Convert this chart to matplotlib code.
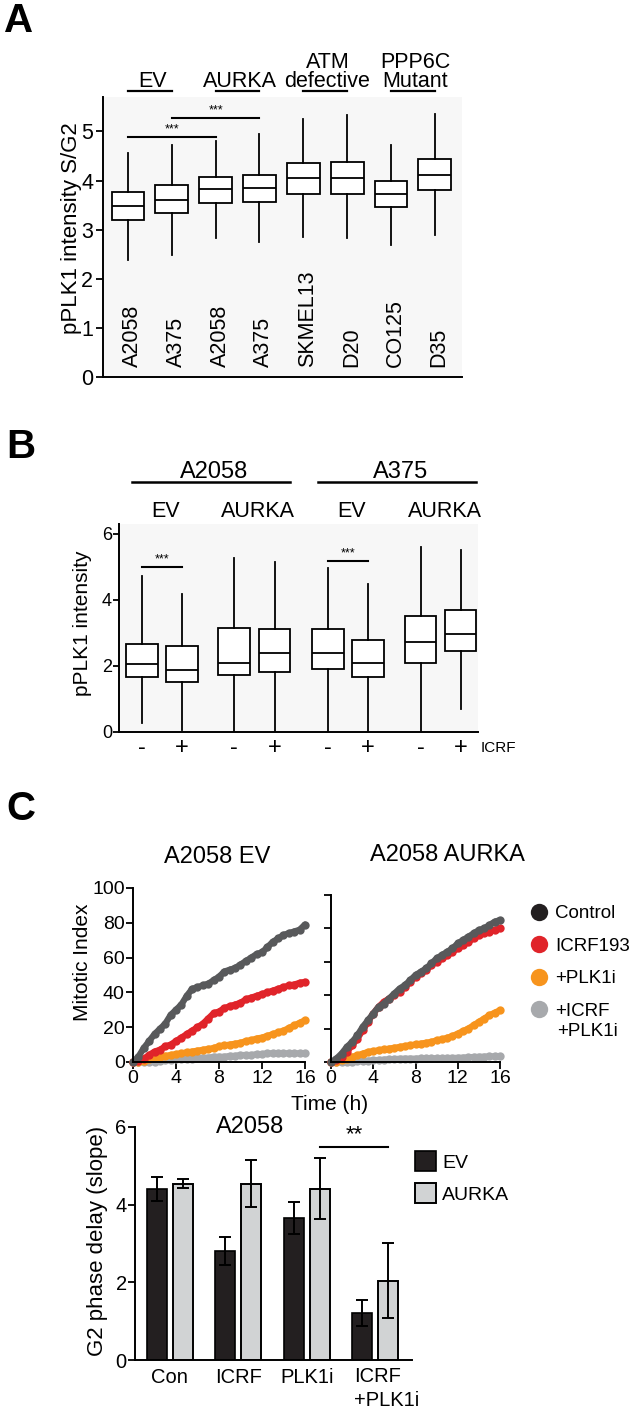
import numpy as np
import matplotlib
matplotlib.use("Agg")
import matplotlib.pyplot as plt
from matplotlib.lines import Line2D

plt.rcParams['font.family'] = ['Liberation Sans', 'DejaVu Sans']

# ---------------- data ----------------
# Panel A
a_cells = ["A2058", "A375", "A2058", "A375", "SKMEL13", "D20", "CO125", "D35"]
a_whislo = [2.38, 2.49, 2.82, 2.75, 2.84, 2.82, 2.69, 2.90]
a_q1 = [3.20, 3.33, 3.55, 3.57, 3.73, 3.73, 3.47, 3.80]
a_med = [3.49, 3.61, 3.83, 3.85, 4.05, 4.06, 3.73, 4.12]
a_q3 = [3.76, 3.90, 4.07, 4.12, 4.35, 4.37, 3.98, 4.43]
a_whishi = [4.55, 4.73, 4.80, 4.94, 5.26, 5.33, 4.73, 5.35]
a_groups = [["EV"], ["AURKA"], ["ATM", "defective"], ["PPP6C", "Mutant"]]

# Panel B
b_whislo = [0.27, 0.06, 0.0, 0.0, 0.0, 0.0, 0.0, 0.70]
b_q1 = [1.68, 1.50, 1.72, 1.82, 1.90, 1.67, 2.10, 2.45]
b_med = [2.06, 1.88, 2.10, 2.40, 2.40, 2.10, 2.73, 2.97]
b_q3 = [2.67, 2.60, 3.15, 3.12, 3.12, 2.80, 3.50, 3.70]
b_whishi = [4.73, 4.18, 5.27, 5.15, 4.97, 4.48, 5.60, 5.50]
b_lines = ["A2058", "A375"]
b_constructs = ["EV", "AURKA", "EV", "AURKA"]
b_icrf = ["-", "+", "-", "+", "-", "+", "-", "+"]

# Panel C - time courses
time_h = [0, 0.5, 1, 1.5, 2, 2.5, 3, 3.5, 4, 4.5, 5, 5.5, 6, 6.5, 7, 7.5, 8,
          8.5, 9, 9.5, 10, 10.5, 11, 11.5, 12, 12.5, 13, 13.5, 14, 14.5, 15, 15.5, 16]
ev_control = [0, 3, 8, 12, 16, 19, 22, 27, 30, 33, 38, 42, 43, 44, 45, 47, 49,
              52, 53, 54, 56, 58, 60, 62, 63, 66, 69, 71, 73, 74, 75, 76, 79]
ev_icrf = [0, 0.5, 2, 4, 6, 7, 9, 10, 12, 14, 16, 18, 20, 22, 25, 28, 29,
           31, 32, 33, 34, 36, 37, 38, 39, 40, 41, 42, 43, 44, 44.5, 45.5, 46]
ev_plk1i = [0, 0, 0.5, 1.5, 2.5, 3, 3.5, 4, 4.5, 5, 5.5, 6, 6.5, 7, 7.5, 8, 9,
            9.5, 10, 10.5, 11, 12, 12.5, 13.5, 14, 15, 16, 17, 18, 19.5, 21, 22.5, 24]
ev_combo = [0, 0, 0, 0, 0, 0.5, 1, 1, 1.5, 1.5, 2, 2, 2.5, 2.5, 2.5, 3, 3,
            3, 3.5, 3.5, 4, 4, 4, 4.5, 4.5, 5, 5, 5, 5, 5, 5, 5, 5]
au_control = [0, 2, 5, 9, 12, 16, 21, 25, 29, 33, 35, 38, 41, 44, 46, 49, 52,
              54, 56, 59, 62, 64, 66, 68, 71, 73, 75, 77, 79, 80, 82, 84, 85]
au_icrf = [0, 1, 3, 6, 10, 14, 19, 24, 29, 33, 36, 38, 40, 42, 45, 48, 51,
           53, 55, 58, 60, 62, 64, 66, 68, 70, 72, 74, 76, 77, 78, 79, 80]
au_plk1i = [0, 0, 1, 2, 3, 4, 5, 6, 6.5, 7, 7.5, 8, 8.5, 9, 9.5, 10, 10.5,
            11, 11.5, 12, 13, 13.5, 14.5, 15.5, 17, 18.5, 20, 22, 24, 26, 28, 29.5, 31]
au_combo = [0, 0, 0, 0, 0, 0.3, 0.6, 0.8, 1, 1.2, 1.4, 1.6, 1.8, 1.9, 2, 2, 2,
            2.1, 2.2, 2.2, 2.3, 2.3, 2.4, 2.4, 2.5, 2.6, 2.8, 3, 3.1, 3.2, 3.3, 3.4, 3.5]
series_names = ["Control", "ICRF193", "+PLK1i", "+ICRF"]

# Panel C - bars
bar_groups = ["Con", "ICRF", "PLK1i", "ICRF\n+PLK1i"]
ev_mean = [4.41, 2.81, 3.66, 1.21]
ev_err = [0.31, 0.36, 0.41, 0.34]
aurka_mean = [4.54, 4.54, 4.41, 2.04]
aurka_err = [0.12, 0.60, 0.78, 0.97]

# ---------------- layout helpers ----------------
W, H = 630, 1409
fig = plt.figure(figsize=(W / 100, H / 100), dpi=100)


def rect(l, t, r, b):
    return [l / W, 1 - b / H, (r - l) / W, (b - t) / H]


def fx(x):
    return x / W


def fy(y):
    return 1 - y / H


BG = '#f7f7f7'
LW = 1.3

# ---------------- Panel A ----------------
axA = fig.add_axes(rect(103, 97, 462, 377))
axA.set_facecolor(BG)
posA = list(range(1, 9))
statsA = [dict(med=m, q1=a, q3=b, whislo=lo, whishi=hi, label=c)
          for m, a, b, lo, hi, c in zip(a_med, a_q1, a_q3, a_whislo, a_whishi, a_cells)]
axA.bxp(statsA, positions=posA, widths=0.75, showfliers=False, showcaps=False,
        patch_artist=True,
        boxprops=dict(facecolor='white', edgecolor='black', linewidth=LW),
        medianprops=dict(color='black', linewidth=LW),
        whiskerprops=dict(color='black', linewidth=LW))
axA.set_xlim(0.43, 8.62)
axA.set_ylim(0, 5.7)
axA.set_yticks([0, 1, 2, 3, 4, 5])
axA.set_xticks([])
for s in ['top', 'right']:
    axA.spines[s].set_visible(False)
for s in ['left', 'bottom']:
    axA.spines[s].set_linewidth(1.4)
axA.tick_params(axis='y', direction='out', length=5, width=1.3, labelsize=15.5, pad=2)
for p, c in zip(posA, a_cells):
    axA.text(p + 0.1, 0.2, c, rotation=90, ha='center', va='bottom', fontsize=15.5)
trA = axA.get_xaxis_transform()
for gi, g in enumerate(a_groups):
    x0, x1 = posA[2 * gi], posA[2 * gi + 1]
    xc = (x0 + x1) / 2 + 0.05
    axA.plot([x0, x1], [1.021, 1.021], color='black', lw=1.6, transform=trA, clip_on=False)
    axA.text(xc, 1.034, g[-1], ha='center', va='baseline', fontsize=15.5, transform=trA)
    if len(g) > 1:
        axA.text(xc, 1.104, g[0], ha='center', va='baseline', fontsize=15.5, transform=trA)
for (i, j, yv) in [(0, 2, 4.88), (1, 3, 5.27)]:
    axA.plot([posA[i], posA[j]], [yv, yv], color='black', lw=1.5)
    axA.text((posA[i] + posA[j]) / 2, yv + 0.03, "***", ha='center', va='bottom', fontsize=9)
fig.text(fx(71), fy(228), "pPLK1 intensity S/G2", rotation=90, ha='center', va='center', fontsize=16)
fig.text(fx(4), fy(32), "A", fontsize=29, fontweight='bold', va='baseline', ha='left')

# ---------------- Panel B ----------------
axB = fig.add_axes(rect(119, 524, 478, 732))
axB.set_facecolor(BG)
posB = [1, 2, 3.3, 4.32, 5.65, 6.65, 7.97, 8.97]
statsB = [dict(med=m, q1=a, q3=b, whislo=lo, whishi=hi)
          for m, a, b, lo, hi in zip(b_med, b_q1, b_q3, b_whislo, b_whishi)]
axB.bxp(statsB, positions=posB, widths=0.78, showfliers=False, showcaps=False,
        patch_artist=True,
        boxprops=dict(facecolor='white', edgecolor='black', linewidth=LW),
        medianprops=dict(color='black', linewidth=LW),
        whiskerprops=dict(color='black', linewidth=LW))
axB.set_xlim(0.425, 9.4)
axB.set_ylim(0, 6.3)
axB.set_yticks([0, 2, 4, 6])
axB.set_xticks([])
for s in ['top', 'right']:
    axB.spines[s].set_visible(False)
for s in ['left', 'bottom']:
    axB.spines[s].set_linewidth(1.4)
axB.tick_params(axis='y', direction='out', length=4, width=1.3, labelsize=13, pad=1)
trB = axB.get_xaxis_transform()
for k, name in enumerate(b_lines):
    gc = (posB[4 * k] + posB[4 * k + 3]) / 2
    axB.plot([gc - 1.9, gc + 2.05], [1.202, 1.202], color='black', lw=1.8, transform=trB, clip_on=False)
    axB.text(gc + 0.15, 1.221, name, ha='center', va='baseline', fontsize=17, transform=trB)
for k, name in enumerate(b_constructs):
    pc = (posB[2 * k] + posB[2 * k + 1]) / 2
    axB.text(pc + 0.1, 1.034, name, ha='center', va='baseline', fontsize=15.5, transform=trB)
for p, s in zip(posB, b_icrf):
    axB.text(p, -0.077, s, ha='center', va='center', fontsize=17, transform=trB)
axB.text(9.47, -0.077, "ICRF", ha='left', va='center', fontsize=11, transform=trB)
for (i, j, yv) in [(0, 1, 5.0), (4, 5, 5.18)]:
    axB.plot([posB[i], posB[j]], [yv, yv], color='black', lw=1.5)
    axB.text((posB[i] + posB[j]) / 2, yv + 0.05, "***", ha='center', va='bottom', fontsize=9)
fig.text(fx(82), fy(623), "pPLK1 intensity", rotation=90, ha='center', va='center', fontsize=15)
fig.text(fx(6), fy(458), "B", fontsize=29, fontweight='bold', va='baseline', ha='left')

# ---------------- Panel C : time courses ----------------
colors = ['#58595b', '#e0242a', '#f7941d', '#a7a9ac']
legend_colors = ['#231f20', '#e0242a', '#f7941d', '#a7a9ac']
axL = fig.add_axes(rect(133, 888, 305, 1062))
axR = fig.add_axes(rect(331, 895, 500, 1062))
ev_series = [ev_control, ev_icrf, ev_plk1i, ev_combo]
au_series = [au_control, au_icrf, au_plk1i, au_combo]
draw_order = [3, 2, 1, 0]
for ax, series in [(axL, ev_series), (axR, au_series)]:
    for i in draw_order:
        ax.plot(time_h, series[i], color=colors[i], lw=4.5, marker='o', ms=6,
                markeredgewidth=0, solid_capstyle='round', clip_on=False)
    ax.set_xlim(0, 16)
    ax.set_ylim(0, 100)
    ax.set_xticks([0, 4, 8, 12, 16])
    ax.set_yticks([0, 20, 40, 60, 80, 100])
    for s in ['top', 'right']:
        ax.spines[s].set_visible(False)
    for s in ['left', 'bottom']:
        ax.spines[s].set_linewidth(1.4)
    ax.tick_params(direction='out', length=5, width=1.3, labelsize=14, pad=1)
axR.tick_params(axis='y', labelleft=False)
fig.text(fx(217), fy(857), "A2058 EV", ha='center', va='center', fontsize=17)
fig.text(fx(447), fy(855), "A2058 AURKA", ha='center', va='center', fontsize=17)
fig.text(fx(330), fy(1104), "Time (h)", ha='center', va='center', fontsize=15)
fig.text(fx(83), fy(962), "Mitotic Index", rotation=90, ha='center', va='center', fontsize=15)
handles = [Line2D([], [], ls='none', marker='o', ms=12.5, color=c, markeredgewidth=0)
           for c in legend_colors]
fig.legend(handles, series_names, loc='upper left', bbox_to_anchor=(fx(530), fy(905)),
           frameon=False, fontsize=13.5, handlelength=1.0, handletextpad=0.35,
           labelspacing=0.82, borderpad=0, borderaxespad=0)
fig.text(fx(557), fy(1032), "+PLK1i", ha='left', va='center', fontsize=13.5)
fig.text(fx(6), fy(820), "C", fontsize=29, fontweight='bold', va='baseline', ha='left')

# ---------------- Panel C : bars ----------------
axC = fig.add_axes(rect(135, 1127, 412, 1360))
xg = np.arange(len(bar_groups))
off, bw = 0.19, 0.29
ekw = dict(ecolor='black', elinewidth=1.4, capsize=4.5, capthick=1.4)
axC.bar(xg - off, ev_mean, bw, yerr=ev_err, color='#231f20', edgecolor='black',
        linewidth=1.2, error_kw=ekw, label='EV')
axC.bar(xg + off, aurka_mean, bw, yerr=aurka_err, color='#d1d3d4', edgecolor='black',
        linewidth=1.4, error_kw=ekw, label='AURKA')
axC.set_xlim(-0.51, 3.54)
axC.set_ylim(0, 6)
axC.set_yticks([0, 2, 4, 6])
axC.set_xticks(xg)
axC.set_xticklabels(bar_groups[:-1] + [""])
trC = axC.get_xaxis_transform()
axC.text(xg[-1] - 0.31, -0.03, bar_groups[-1], ha='left', va='top', fontsize=14.5,
         linespacing=1.35, multialignment='left', transform=trC)
for s in ['top', 'right']:
    axC.spines[s].set_visible(False)
for s in ['left', 'bottom']:
    axC.spines[s].set_linewidth(1.4)
axC.tick_params(axis='y', direction='out', length=5, width=1.3, labelsize=14.5, pad=1)
axC.tick_params(axis='x', length=0, labelsize=14.5, pad=6)
axC.plot([xg[2] + off, xg[3] + off], [5.49, 5.49], color='black', lw=1.5)
axC.text((xg[2] + xg[3]) / 2 + off, 5.52, "**", ha='center', va='bottom', fontsize=16)
fig.text(fx(250), fy(1127), "A2058", ha='center', va='center', fontsize=17)
fig.text(fx(97), fy(1241), "G2 phase delay (slope)", rotation=90, ha='center', va='center', fontsize=16)
axC.legend(loc='upper left', bbox_to_anchor=(fx(415), fy(1151)), bbox_transform=fig.transFigure,
           frameon=False, fontsize=14, handlelength=1.1, handleheight=1.2,
           handletextpad=0.3, labelspacing=0.6, borderpad=0, borderaxespad=0)

fig.savefig("out.png", dpi=100)
